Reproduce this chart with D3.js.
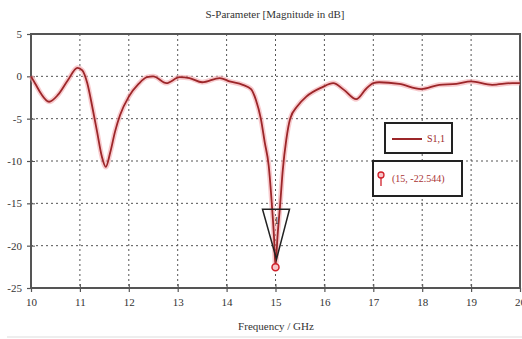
<!DOCTYPE html>
<html>
<head>
<meta charset="utf-8">
<script src="https://cdn.jsdelivr.net/npm/d3@7"></script>
<style>
  body { margin: 0; background: #fff; }
  svg { display: block; font-family: 'Liberation Serif', 'DejaVu Serif', serif; }
  .grid line { stroke: #555; stroke-dasharray: 2,3; stroke-width: 1; }
</style>
</head>
<body>
<svg width="522" height="339"></svg>
<script>
const svg = d3.select('svg');

const w = +svg.attr('width');
const h = +svg.attr('height');

// data
const freq = [10.0, 10.1, 10.2, 10.37, 10.55, 10.75, 10.95, 11.05, 11.15, 11.25, 11.35, 11.45, 11.53, 11.62, 11.72, 11.82,
  12.0, 12.2, 12.37, 12.5, 12.77, 13.04, 13.24, 13.5, 13.86, 14.06, 14.33, 14.5, 14.6, 14.7, 14.78, 14.86, 14.93,
  14.97, 15.0, 15.04, 15.09, 15.15, 15.22, 15.3, 15.45, 15.63, 15.95, 16.18, 16.4, 16.65, 16.85, 17.0, 17.12, 17.53,
  17.98, 18.35, 18.7, 19.0, 19.43, 19.84, 20.0];
const s11 = [0, -1.0, -2.0, -3.0, -2.2, -0.5, 1.0, 0.7, -0.8, -3.5, -6.5, -9.5, -10.7, -9.0, -6.5, -4.6,
  -2.4, -0.9, -0.1, 0, -0.8, -0.1, -0.2, -0.7, -0.2, -0.6, -1.0, -1.5, -2.8, -5, -7.8, -10.5, -15.5,
  -19, -22.544, -19, -15.5, -11, -7.5, -5, -3.5, -2.4, -1.3, -0.8, -1.6, -2.7, -1.5, -0.8, -0.7, -0.9,
  -1.5, -1.0, -0.9, -0.6, -1.0, -0.8, -0.8];
const xTicks = [10, 11, 12, 13, 14, 15, 16, 17, 18, 19, 20];
const yTicks = [5, 0, -5, -10, -15, -20, -25];
const markerPoint = [15, -22.544];

const x = d3.scaleLinear().domain([10, 20]).range([31, 520]);
const y = d3.scaleLinear().domain([-25, 5]).range([288, 34]);

const red = '#9c2629';

// title
svg.append('text')
  .attr('x', 275).attr('y', 18)
  .attr('text-anchor', 'middle')
  .attr('font-size', 11)
  .attr('fill', '#333')
  .text('S-Parameter [Magnitude in dB]');

// grid
const grid = svg.append('g').attr('class', 'grid');
grid.selectAll('.gx')
  .data(xTicks.slice(1, -1))
  .enter().append('line')
  .attr('x1', d => x(d)).attr('x2', d => x(d))
  .attr('y1', y(5)).attr('y2', y(-25));
grid.selectAll('.gy')
  .data(yTicks.slice(1, -1))
  .enter().append('line')
  .attr('x1', x(10)).attr('x2', x(20))
  .attr('y1', d => y(d)).attr('y2', d => y(d));

// axes
const xAxis = svg.append('g')
  .attr('transform', `translate(0,${y(-25)})`)
  .call(d3.axisBottom(x).tickValues(xTicks).tickSize(4).tickPadding(6).tickFormat(d3.format('d')));
const yAxis = svg.append('g')
  .attr('transform', `translate(${x(10)},0)`)
  .call(d3.axisLeft(y).tickValues(yTicks).tickSize(4).tickPadding(5).tickFormat(d => d));

[xAxis, yAxis].forEach(a => {
  a.select('.domain').remove();
  a.selectAll('line').attr('stroke', '#555').attr('stroke-width', 1.2);
  a.selectAll('text').attr('font-size', 11).attr('fill', '#333')
    .attr('font-family', "'Liberation Serif', serif");
});
// small inner tick marks (cross look)
xAxis.selectAll('.tick').append('line').attr('y1', 0).attr('y2', -4).attr('stroke', '#555');
yAxis.selectAll('.tick').append('line').attr('x1', 0).attr('x2', 4).attr('stroke', '#555');

// frame
svg.append('rect')
  .attr('x', x(10)).attr('y', y(5))
  .attr('width', x(20) - x(10)).attr('height', y(-25) - y(5))
  .attr('fill', 'none').attr('stroke', '#555').attr('stroke-width', 2);

// x label
svg.append('text')
  .attr('x', 276).attr('y', 330)
  .attr('text-anchor', 'middle')
  .attr('font-size', 11)
  .attr('fill', '#333')
  .text('Frequency / GHz');

svg.append('line')
  .attr('x1', 7).attr('x2', w).attr('y1', 337).attr('y2', 337)
  .attr('stroke', '#ddd');

// curve
const pts = freq.map((f, i) => [f, s11[i]]);
const line = d3.line()
  .x(d => x(d[0]))
  .y(d => y(d[1]))
  .curve(d3.curveMonotoneX);

svg.append('path')
  .datum(pts)
  .attr('d', line)
  .attr('fill', 'none')
  .attr('stroke', '#f4a8ae')
  .attr('stroke-opacity', 0.6)
  .attr('stroke-width', 5);
svg.append('path')
  .datum(pts)
  .attr('d', line)
  .attr('fill', 'none')
  .attr('stroke', red)
  .attr('stroke-width', 1.8);

// marker triangle + circle
const mx = x(markerPoint[0]);
const my = y(markerPoint[1]);
svg.append('path')
  .attr('d', `M${mx - 13},${my - 58}L${mx + 14},${my - 58}L${mx + 1},${my - 8}Z`)
  .attr('fill', 'none')
  .attr('stroke', '#222')
  .attr('stroke-width', 1.5);
svg.append('text')
  .attr('x', mx + 1).attr('y', my - 43)
  .attr('text-anchor', 'middle')
  .attr('font-size', 10)
  .attr('fill', '#333')
  .text('1');
svg.append('circle')
  .attr('cx', mx).attr('cy', my)
  .attr('r', 3.5)
  .attr('fill', '#f7c5c8')
  .attr('stroke', '#d0202a')
  .attr('stroke-width', 1.5);

// legend
const lg = svg.append('g');
lg.append('rect')
  .attr('x', 385).attr('y', 123).attr('width', 67).attr('height', 30)
  .attr('fill', '#fff').attr('stroke', '#222').attr('stroke-width', 2);
lg.append('line')
  .attr('x1', 392).attr('x2', 422).attr('y1', 139).attr('y2', 139)
  .attr('stroke', red).attr('stroke-width', 2);
lg.append('text')
  .attr('x', 427).attr('y', 142)
  .attr('font-size', 10)
  .attr('fill', red)
  .text('S1,1');

lg.append('rect')
  .attr('x', 373).attr('y', 161).attr('width', 89).attr('height', 35)
  .attr('fill', '#fff').attr('stroke', '#222').attr('stroke-width', 2);
lg.append('circle')
  .attr('cx', 381).attr('cy', 175).attr('r', 3)
  .attr('fill', '#f7c5c8').attr('stroke', '#d0202a').attr('stroke-width', 1.3);
lg.append('line')
  .attr('x1', 381).attr('x2', 381).attr('y1', 178).attr('y2', 186)
  .attr('stroke', '#d0202a').attr('stroke-width', 1.3);
lg.append('text')
  .attr('x', 392).attr('y', 182)
  .attr('font-size', 10)
  .attr('fill', '#a33')
  .text(`(${markerPoint[0]}, ${markerPoint[1]})`);
</script>
</body>
</html>
